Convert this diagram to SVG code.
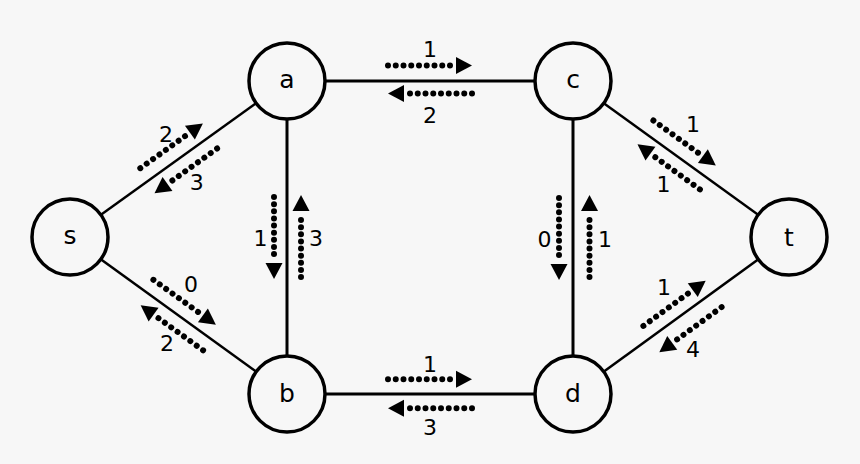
<svg xmlns="http://www.w3.org/2000/svg" xmlns:xlink="http://www.w3.org/1999/xlink" width="860" height="464" viewBox="0 0 860 464">
<style>
.edge{stroke:#000;stroke-width:3;fill:none}
.diag{stroke:#000;stroke-width:2.5;fill:none}
.node circle{fill:#f7f7f7;stroke:#000;stroke-width:3.5}
.node text{font-family:"DejaVu Sans",sans-serif;font-size:25px;text-anchor:middle;fill:#000}
.lbl{font-family:"DejaVu Sans",sans-serif;font-size:22px;text-anchor:middle;fill:#000}
.dots{stroke:#000;stroke-width:6;stroke-linecap:round;fill:none}
</style>
<defs>
<g id="ah"><line class="dots" x1="0" y1="0" x2="62.5" y2="0" stroke-dasharray="0 7.75"/><polygon points="68,-8.5 84,0 68,8.5"/></g>
<g id="av"><line class="dots" x1="0" y1="0" x2="57.5" y2="0" stroke-dasharray="0 7.125"/><polygon points="66,-8.5 82,0 66,8.5"/></g>
<g id="ad"><line class="dots" x1="0" y1="0" x2="55.5" y2="0" stroke-dasharray="0 7.857"/><polygon points="61,-8.5 77,0 61,8.5"/></g>
</defs>
<rect width="860" height="464" fill="#f7f7f7"/>
<g id="connectors">
<line class="diag" x1="70" y1="237" x2="287" y2="81"/>
<line class="diag" x1="70" y1="237" x2="287" y2="394"/>
<line class="edge" x1="287" y1="81" x2="573" y2="81"/>
<line class="edge" x1="287" y1="81" x2="287" y2="394"/>
<line class="edge" x1="287" y1="394" x2="573" y2="394"/>
<line class="edge" x1="573" y1="81" x2="573" y2="394"/>
<line class="diag" x1="573" y1="81" x2="789" y2="237"/>
<line class="diag" x1="573" y1="394" x2="789" y2="237"/>
</g>
<g id="flows">
<use xlink:href="#ah" transform="translate(388,65.5)"/>
<use xlink:href="#ah" transform="translate(472,93.5) rotate(180)"/>
<use xlink:href="#ah" transform="translate(388,379.3)"/>
<use xlink:href="#ah" transform="translate(472,408.3) rotate(180)"/>
<use xlink:href="#av" transform="translate(274,197) rotate(90)"/>
<use xlink:href="#av" transform="translate(301,277) rotate(-90)"/>
<use xlink:href="#av" transform="translate(559,198) rotate(90)"/>
<use xlink:href="#av" transform="translate(589.5,277) rotate(-90)"/>
<use xlink:href="#ad" transform="translate(140.3,168.2) rotate(-35.6)"/>
<use xlink:href="#ad" transform="translate(217.1,148.5) rotate(144.4)"/>
<use xlink:href="#ad" transform="translate(153.4,279.8) rotate(35.76)"/>
<use xlink:href="#ad" transform="translate(203.1,350.3) rotate(215.76)"/>
<use xlink:href="#ad" transform="translate(653.4,120.5) rotate(35.84)"/>
<use xlink:href="#ad" transform="translate(699.9,189.4) rotate(215.84)"/>
<use xlink:href="#ad" transform="translate(643.4,325.9) rotate(-36)"/>
<use xlink:href="#ad" transform="translate(721.6,307.1) rotate(144)"/>
</g>
<g id="labels">
<text class="lbl" x="430" y="57">1</text>
<text class="lbl" x="430" y="123">2</text>
<text class="lbl" x="430" y="371.5">1</text>
<text class="lbl" x="430" y="434.5">3</text>
<text class="lbl" x="260.5" y="246">1</text>
<text class="lbl" x="316" y="246">3</text>
<text class="lbl" x="544.5" y="246.5">0</text>
<text class="lbl" x="605" y="246.5">1</text>
<text class="lbl" x="166" y="142">2</text>
<text class="lbl" x="196.7" y="189.5">3</text>
<text class="lbl" x="191" y="292">0</text>
<text class="lbl" x="167" y="350.5">2</text>
<text class="lbl" x="693" y="132">1</text>
<text class="lbl" x="663.5" y="192">1</text>
<text class="lbl" x="664" y="294.5">1</text>
<text class="lbl" x="693" y="356.5">4</text>
</g>
<g id="node-s" class="node"><circle cx="70" cy="237" r="38"/><text x="70" y="244">s</text></g>
<g id="node-a" class="node"><circle cx="287" cy="81" r="38"/><text x="287" y="88">a</text></g>
<g id="node-b" class="node"><circle cx="287" cy="394" r="38"/><text x="287" y="402">b</text></g>
<g id="node-c" class="node"><circle cx="573" cy="81" r="38"/><text x="573" y="88">c</text></g>
<g id="node-d" class="node"><circle cx="573" cy="394" r="38"/><text x="573" y="402">d</text></g>
<g id="node-t" class="node"><circle cx="789" cy="237" r="38"/><text x="789" y="246">t</text></g>
</svg>
